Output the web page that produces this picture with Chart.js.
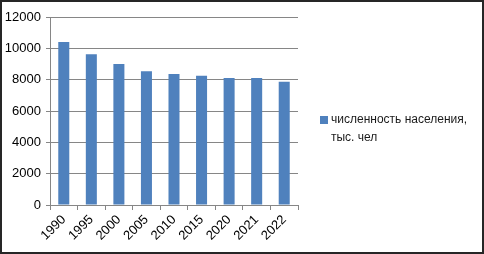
<!DOCTYPE html>
<html>
<head>
<meta charset="utf-8">
<script src="https://cdn.jsdelivr.net/npm/chart.js@4"></script>
<style>
  html, body { margin: 0; padding: 0; background: #fff; }
  #frame {
    width: 484px; height: 254px; box-sizing: border-box;
    border: 2px solid #262626; position: relative; background: #fff;
  }
  #chart { display: block; }
</style>
</head>
<body>
<div id="frame"><canvas id="chart" width="480" height="250"></canvas></div>
<script>
// Population data (thousand people)
const years = ['1990', '1995', '2000', '2005', '2010', '2015', '2020', '2021', '2022'];
const population = [10410, 9630, 9000, 8540, 8360, 8250, 8110, 8110, 7870];
const seriesLabel = ['численность населения,', 'тыс. чел'];
const yTicks = [0, 2000, 4000, 6000, 8000, 10000, 12000];

const FONT = '"Liberation Sans", Arial, sans-serif';

// Legend drawn at right, wrapped onto two lines like the original
const sideLegend = {
  id: 'sideLegend',
  afterDraw(chart) {
    const ctx = chart.ctx;
    const x = 318;
    const y = 114;
    ctx.save();
    ctx.fillStyle = '#4f81bd';
    ctx.fillRect(x, y, 8, 8);
    ctx.fillStyle = '#1a1a1a';
    ctx.font = '12px ' + FONT;
    ctx.textBaseline = 'middle';
    ctx.textAlign = 'left';
    ctx.fillText(seriesLabel[0], x + 11, y + 4);
    ctx.fillText(seriesLabel[1], x + 11, y + 22);
    ctx.restore();
  }
};

const ctx = document.getElementById('chart').getContext('2d');
new Chart(ctx, {
  type: 'bar',
  data: {
    labels: years,
    datasets: [{
      label: seriesLabel.join(' '),
      data: population,
      backgroundColor: '#4f81bd',
      borderWidth: 0,
      categoryPercentage: 1,
      barPercentage: 0.4
    }]
  },
  options: {
    responsive: false,
    animation: false,
    layout: { padding: { top: 15, right: 184, left: 0, bottom: 0 } },
    plugins: {
      legend: { display: false },
      tooltip: { enabled: false }
    },
    scales: {
      y: {
        min: 0,
        max: 12000,
        afterFit(scale) { scale.width = 48; },
        afterBuildTicks(scale) { scale.ticks = yTicks.map(v => ({ value: v })); },
        border: { color: '#868686', width: 1 },
        grid: { color: '#868686', tickLength: 4, lineWidth: 1 },
        ticks: {
          color: '#000',
          padding: 5,
          font: { family: FONT, size: 13 },
          callback: (value) => String(value)
        }
      },
      x: {
        afterFit(scale) { scale.height = 47; },
        border: { color: '#868686', width: 1 },
        grid: { drawOnChartArea: false, color: '#868686', tickLength: 5, offset: true },
        ticks: {
          color: '#000',
          minRotation: 45,
          maxRotation: 45,
          padding: 2,
          font: { family: FONT, size: 13 }
        }
      }
    }
  },
  plugins: [sideLegend]
});
</script>
</body>
</html>
